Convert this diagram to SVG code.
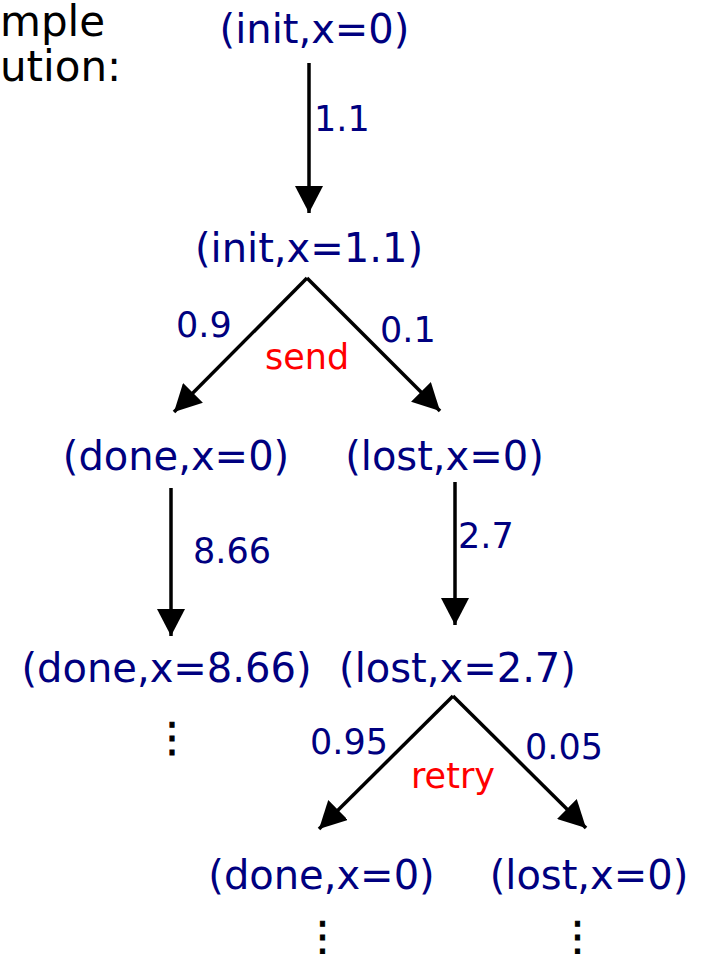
<svg xmlns="http://www.w3.org/2000/svg" width="707" height="954" viewBox="0 0 707 954">
<style>
.node{font-family:"DejaVu Sans",sans-serif;font-size:40px;fill:#00007f;text-anchor:middle}
.lbl{font-family:"DejaVu Sans",sans-serif;font-size:35px;fill:#00007f}
.act{font-family:"DejaVu Sans",sans-serif;font-size:35px;fill:#ff0000}
.title{font-family:"DejaVu Sans",sans-serif;font-size:42px;fill:#000}
.dots{font-family:"DejaVu Sans",sans-serif;font-size:40px;fill:#000;text-anchor:middle;stroke:#000;stroke-width:1}
.edge{stroke:#000;stroke-width:3.5;fill:none;marker-end:url(#ah)}
</style>
<defs>
<marker id="ah" markerUnits="userSpaceOnUse" markerWidth="28" markerHeight="28" viewBox="0 0 26 26" refX="25" refY="13" orient="auto">
<path d="M0,0 L25,13 L0,26 Z" fill="#000"/>
</marker>
</defs>
<rect width="707" height="954" fill="#fff"/>
<g id="title">
<text class="title" x="0" y="36">mple</text>
<text class="title" x="0" y="81">ution:</text>
</g>
<g id="edges">
<line class="edge" x1="309" y1="63" x2="309" y2="213"/>
<line class="edge" x1="307" y1="278" x2="174" y2="412"/>
<line class="edge" x1="307" y1="278" x2="440" y2="411"/>
<line class="edge" x1="171" y1="488" x2="171" y2="636"/>
<line class="edge" x1="455" y1="482" x2="455" y2="625"/>
<line class="edge" x1="453" y1="696" x2="319" y2="829"/>
<line class="edge" x1="453" y1="696" x2="586" y2="828"/>
<text class="lbl" x="314" y="131">1.1</text>
<text class="lbl" x="176" y="337">0.9</text>
<text class="lbl" x="380" y="342">0.1</text>
<text class="act" x="265" y="369">send</text>
<text class="lbl" x="193" y="563">8.66</text>
<text class="lbl" x="458" y="548">2.7</text>
<text class="lbl" x="310" y="754">0.95</text>
<text class="lbl" x="525" y="759">0.05</text>
<text class="act" x="411" y="788">retry</text>
</g>
<g id="n1"><text class="node" x="314.5" y="43">(init,x=0)</text></g>
<g id="n2"><text class="node" x="309" y="262">(init,x=1.1)</text></g>
<g id="n3"><text class="node" x="176" y="470">(done,x=0)</text></g>
<g id="n4"><text class="node" x="444.5" y="470">(lost,x=0)</text></g>
<g id="n5"><text class="node" x="166.5" y="682">(done,x=8.66)</text><text class="dots" x="172" y="751">⋮</text></g>
<g id="n6"><text class="node" x="457.5" y="682">(lost,x=2.7)</text></g>
<g id="n7"><text class="node" x="321.5" y="889">(done,x=0)</text><text class="dots" x="322.5" y="950">⋮</text></g>
<g id="n8"><text class="node" x="589" y="889">(lost,x=0)</text><text class="dots" x="577.5" y="950">⋮</text></g>
</svg>
